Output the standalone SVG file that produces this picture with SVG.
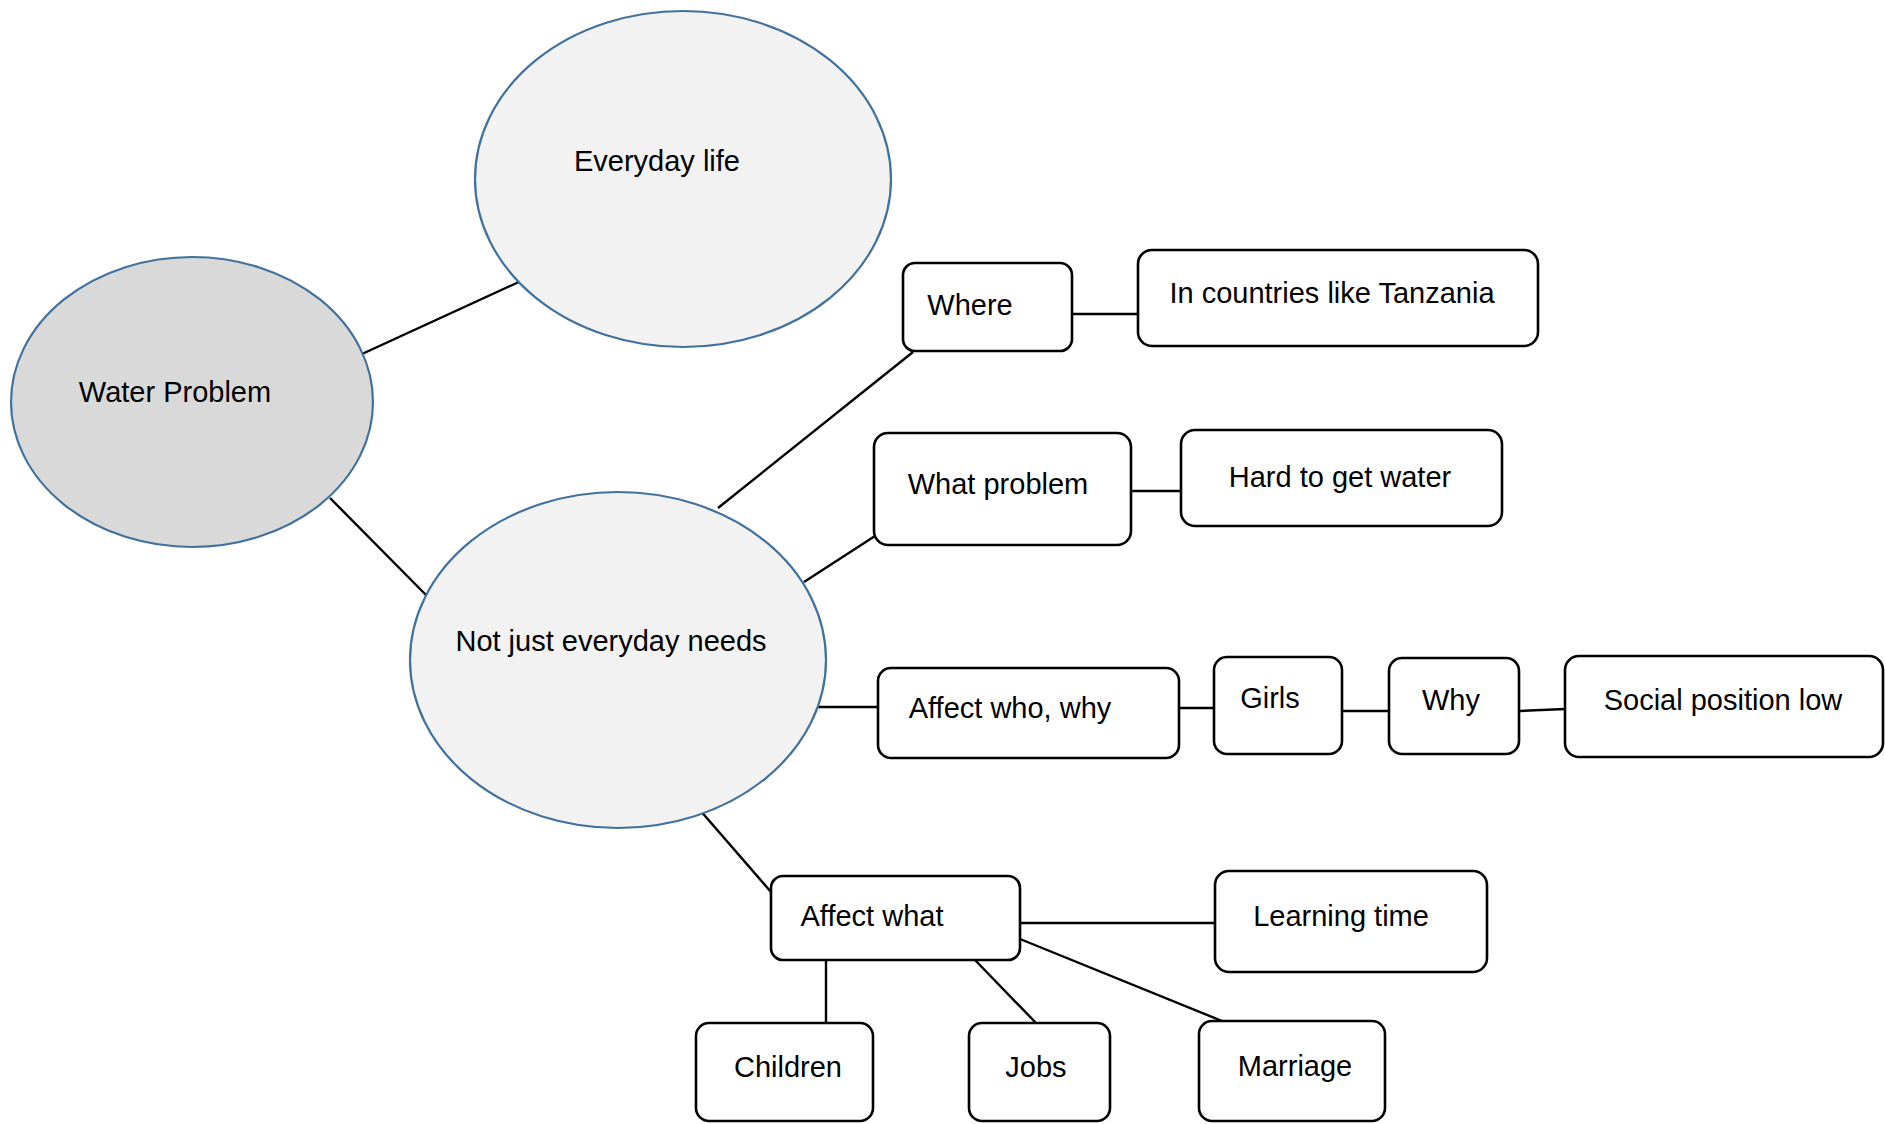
<svg xmlns="http://www.w3.org/2000/svg" width="1885" height="1124" viewBox="0 0 1885 1124">
<style>
  .ell { fill: #f2f2f2; stroke: #41719c; stroke-width: 2.2; }
  .root { fill: #d9d9d9; }
  .box { fill: #ffffff; stroke: #000000; stroke-width: 2.6; }
  .lbl { font-family: "Liberation Sans", Arial, sans-serif; font-size: 29px; fill: #000000; text-anchor: middle; }
  .conn line { stroke: #000000; stroke-width: 2.4; }
</style>
<rect width="1885" height="1124" fill="#ffffff"/>
<g id="connectors" class="conn">
  <line x1="362" y1="354" x2="521" y2="281"/>
  <line x1="330" y1="498" x2="426" y2="595"/>
  <line x1="718" y1="508" x2="913" y2="352"/>
  <line x1="804" y1="582" x2="875" y2="536"/>
  <line x1="816" y1="707" x2="878" y2="707"/>
  <line x1="699" y1="809" x2="771" y2="892"/>
  <line x1="1072" y1="314" x2="1138" y2="314"/>
  <line x1="1129" y1="491" x2="1181" y2="491"/>
  <line x1="1179" y1="708" x2="1214" y2="708"/>
  <line x1="1342" y1="711" x2="1389" y2="711"/>
  <line x1="1519" y1="711" x2="1565" y2="709"/>
  <line x1="1020" y1="923" x2="1215" y2="923"/>
  <line x1="826" y1="960" x2="826" y2="1023"/>
  <line x1="975" y1="960" x2="1036" y2="1023"/>
  <line x1="1020" y1="939" x2="1222" y2="1021"/>
</g>
<g id="everyday-life">
  <ellipse class="ell" cx="683" cy="179" rx="208" ry="168"/>
  <text class="lbl" x="657" y="171">Everyday life</text>
</g>
<g id="water-problem">
  <ellipse class="ell root" cx="192" cy="402" rx="181" ry="145"/>
  <text class="lbl" x="175" y="402">Water Problem</text>
</g>
<g id="not-just-everyday-needs">
  <ellipse class="ell" cx="618" cy="660" rx="208" ry="168"/>
  <text class="lbl" x="611" y="651">Not just everyday needs</text>
</g>
<g id="where">
  <rect class="box" x="903" y="263" width="169" height="88" rx="12"/>
  <text class="lbl" x="970" y="315">Where</text>
</g>
<g id="tanzania">
  <rect class="box" x="1138" y="250" width="400" height="96" rx="14"/>
  <text class="lbl" x="1332" y="303">In countries like Tanzania</text>
</g>
<g id="what-problem">
  <rect class="box" x="874" y="433" width="257" height="112" rx="14"/>
  <text class="lbl" x="998" y="494">What problem</text>
</g>
<g id="hard-to-get-water">
  <rect class="box" x="1181" y="430" width="321" height="96" rx="14"/>
  <text class="lbl" x="1340" y="487">Hard to get water</text>
</g>
<g id="affect-who-why">
  <rect class="box" x="878" y="668" width="301" height="90" rx="13"/>
  <text class="lbl" x="1010" y="718">Affect who, why</text>
</g>
<g id="girls">
  <rect class="box" x="1214" y="657" width="128" height="97" rx="13"/>
  <text class="lbl" x="1270" y="708">Girls</text>
</g>
<g id="why">
  <rect class="box" x="1389" y="658" width="130" height="96" rx="13"/>
  <text class="lbl" x="1451" y="710">Why</text>
</g>
<g id="social-position-low">
  <rect class="box" x="1565" y="656" width="318" height="101" rx="14"/>
  <text class="lbl" x="1723" y="710">Social position low</text>
</g>
<g id="affect-what">
  <rect class="box" x="771" y="876" width="249" height="84" rx="12"/>
  <text class="lbl" x="872" y="926">Affect what</text>
</g>
<g id="learning-time">
  <rect class="box" x="1215" y="871" width="272" height="101" rx="14"/>
  <text class="lbl" x="1341" y="926">Learning time</text>
</g>
<g id="children">
  <rect class="box" x="696" y="1023" width="177" height="98" rx="13"/>
  <text class="lbl" x="788" y="1077">Children</text>
</g>
<g id="jobs">
  <rect class="box" x="969" y="1023" width="141" height="98" rx="13"/>
  <text class="lbl" x="1036" y="1077">Jobs</text>
</g>
<g id="marriage">
  <rect class="box" x="1199" y="1021" width="186" height="100" rx="13"/>
  <text class="lbl" x="1295" y="1076">Marriage</text>
</g>
</svg>
